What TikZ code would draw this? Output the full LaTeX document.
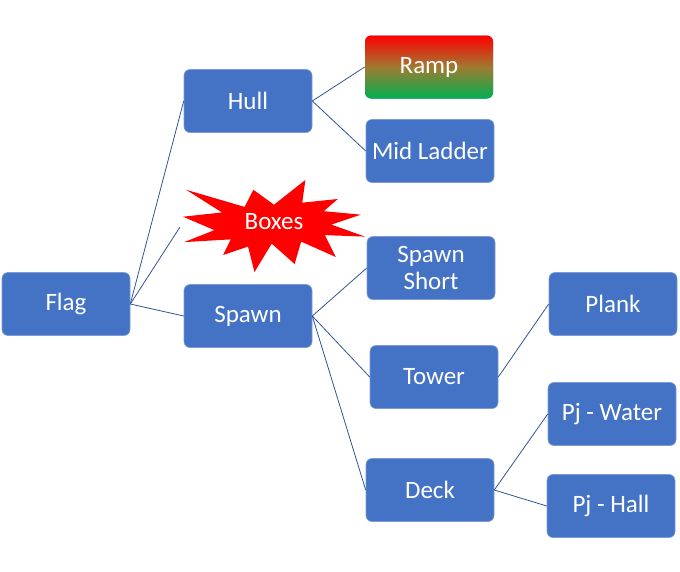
\documentclass[tikz,border=0pt]{standalone}
\usepackage{fontspec}
\setmainfont{Carlito}
\definecolor{boxblue}{HTML}{4472C4}
\definecolor{boxedge}{HTML}{7C9BD6}
\definecolor{linkblue}{HTML}{2F5597}
\definecolor{rampgreen}{HTML}{00B050}
\definecolor{rampmid}{HTML}{A07A30}
\tikzset{
  item/.style={rectangle, rounded corners=6pt, fill=boxblue, draw=boxedge, line width=0.6pt,
    minimum width=128pt, minimum height=63pt, text=white, align=center,
    font=\fontsize{25}{27}\selectfont, inner sep=2pt},
  link/.style={draw=linkblue, line width=0.8pt}
}
\begin{document}
\begin{tikzpicture}[x=1pt,y=-1pt]
        \useasboundingbox (0,0) rectangle (680,571);
        \node[item] (flag) at (66,304) {Flag};
        \node[item] (hull) at (248,101) {Hull};
        \node[item] (spawn) at (248,316) {Spawn};
        \node[item, draw=none, top color=red, bottom color=rampgreen, middle color=rampmid] (ramp) at (429,67) {Ramp};
        \node[item] (midladder) at (430,151) {Mid Ladder};
        \node[item] (spawnshort) at (431,268) {Spawn\\Short};
        \node[item] (tower) at (434,377) {Tower};
        \node[item] (deck) at (430,490) {Deck};
        \node[item] (plank) at (613,304) {Plank};
        \node[item] (pjwater) at (612,414) {Pj - Water};
        \node[item] (pjhall) at (611,506) {Pj - Hall};
        \begin{scope}[shift={(183,180)}, xscale=0.8426, yscale=0.4259]
        \fill[red] (108,58) -- (145.22,0) -- (141.55,53.25) -- (183.8,44.57) -- (167.02,73.15)
          -- (210.97,81.37) -- (176.07,104.75) -- (216,132.9) -- (168.37,129.42) -- (181.45,180.95)
          -- (140.2,144.57) -- (132.47,197.37) -- (105.32,149.35) -- (84.85,216) -- (77.15,156.27)
          -- (47.62,176.17) -- (56.67,139.37) -- (1.35,145.87) -- (37.22,117.75) -- (0,86.15)
          -- (46.27,76.17) -- (3.7,22.95) -- (73.12,63.2) -- (83.52,22.95) -- cycle;
        \end{scope}
        \node[text=white, font=\fontsize{25}{27}\selectfont] (boxes) at (274,222) {Boxes};
        \coordinate (boxesin) at (180,227);
        \draw[link] (flag.east) -- (hull.west);
        \draw[link] (flag.east) -- (boxesin);
        \draw[link] (flag.east) -- (spawn.west);
        \draw[link] (hull.east) -- (ramp.west);
        \draw[link] (hull.east) -- (midladder.west);
        \draw[link] (spawn.east) -- (spawnshort.west);
        \draw[link] (spawn.east) -- (tower.west);
        \draw[link] (spawn.east) -- (deck.west);
        \draw[link] (tower.east) -- (plank.west);
        \draw[link] (deck.east) -- (pjwater.west);
        \draw[link] (deck.east) -- (pjhall.west);
\end{tikzpicture}
\end{document}
